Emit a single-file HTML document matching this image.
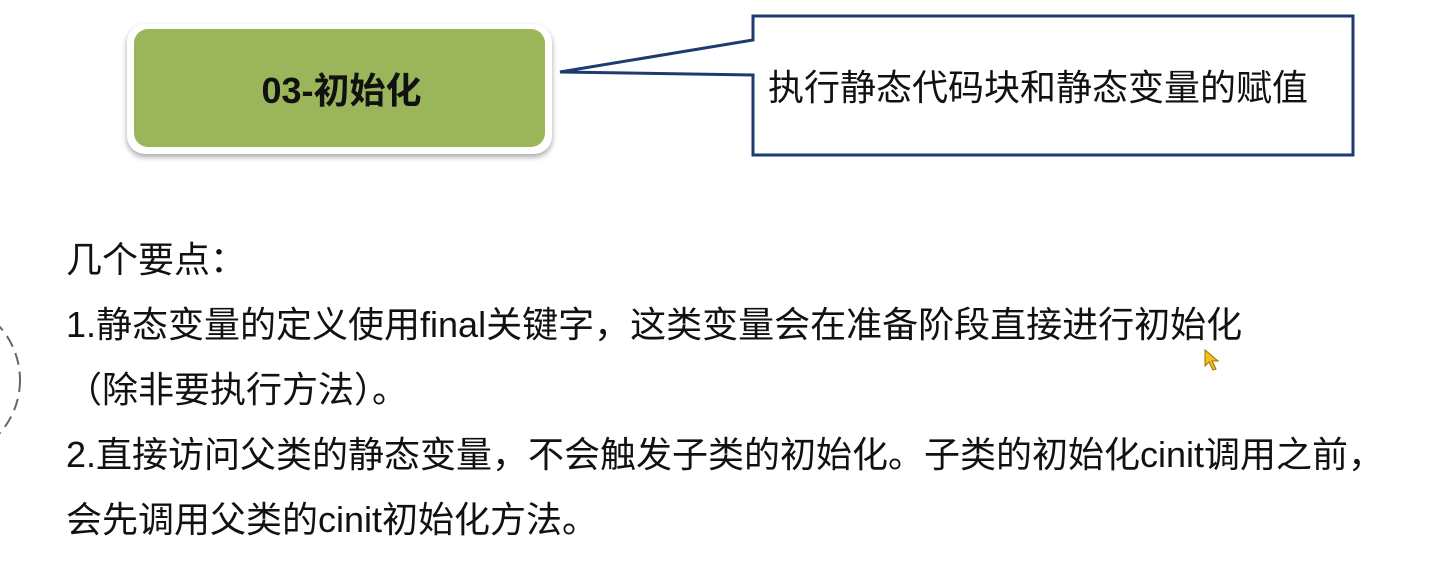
<!DOCTYPE html>
<html><head><meta charset="utf-8"><style>
body{margin:0;width:1443px;height:563px;background:#fff;overflow:hidden;position:relative;font-family:"Liberation Sans","Noto Sans CJK SC",sans-serif;}
.g{position:absolute;left:127px;top:24px;width:425px;height:130px;background:#fff;border-radius:18px;box-shadow:0 3px 6px rgba(0,0,0,.35);}
.gi{position:absolute;left:7px;top:5px;right:7px;bottom:7px;background:#9bb55a;border-radius:14px;display:flex;align-items:center;justify-content:center;font-weight:bold;font-size:36px;color:#111;padding-left:4px;}
.t{position:absolute;left:66px;font-size:36px;color:#111;white-space:nowrap;line-height:40px;}
</style></head><body>
<div class="g"><div class="gi">03-初始化</div></div>
<svg width="1443" height="563" style="position:absolute;left:0;top:0">
<path d="M753 16 H1353 V155 H753 V75 L560 72 L753 40 Z" fill="#fff" stroke="#1d3b6f" stroke-width="3"/>
<circle cx="-60" cy="380" r="80" fill="none" stroke="#666" stroke-width="2" stroke-dasharray="12 7"/>
<path d="M1205 350 l0 16 l4 -4 l4 8 l3 -1 l-4 -8 l6 0 z" fill="#f0c020" stroke="#a07000" stroke-width="1"/>
</svg>
<div style="position:absolute;left:768px;top:68px;font-size:36px;color:#111;white-space:nowrap;line-height:40px">执行静态代码块和静态变量的赋值</div>
<div class="t" style="top:240px">几个要点：</div>
<div class="t" style="top:305px">1.静态变量的定义使用final关键字，这类变量会在准备阶段直接进行初始化</div>
<div class="t" style="top:370px">（除非要执行方法）。</div>
<div class="t" style="top:435px">2.直接访问父类的静态变量，不会触发子类的初始化。子类的初始化cinit调用之前，</div>
<div class="t" style="top:500px">会先调用父类的cinit初始化方法。</div>
</body></html>
